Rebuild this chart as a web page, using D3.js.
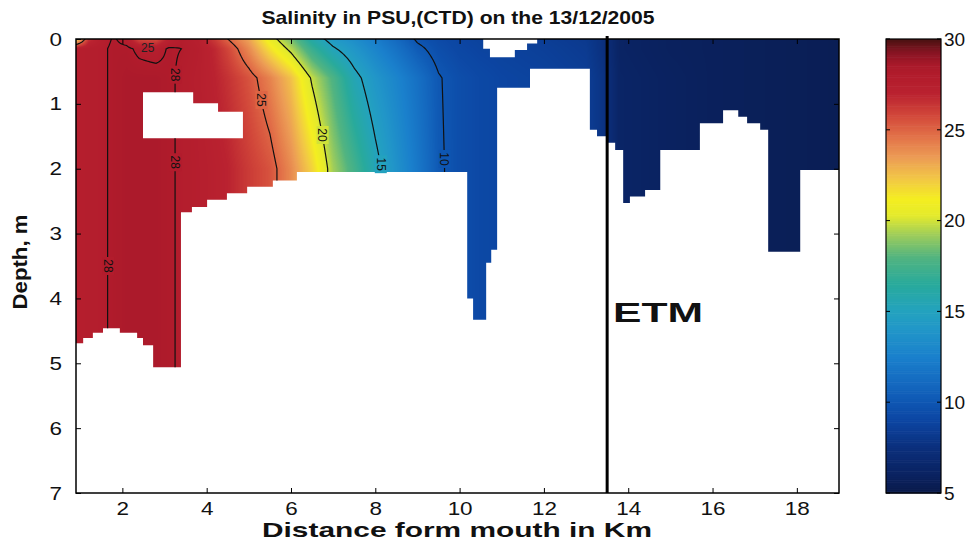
<!DOCTYPE html>
<html>
<head>
<meta charset="utf-8">
<title>Salinity section</title>
<script src="https://cdn.jsdelivr.net/npm/d3@7"></script>
<style>
  body { margin: 0; background: #fff; }
  svg { display: block; font-family: "Liberation Sans", Arial, sans-serif; }
</style>
</head>
<body>
<div id="chart"></div>
<script>
// ===================================
// DATA
// ===================================

const xTicks = [2, 4, 6, 8, 10, 12, 14, 16, 18];
const yTicks = [0, 1, 2, 3, 4, 5, 6, 7];
const colorTicks = [5, 10, 15, 20, 25, 30];
const contourLevels = [10, 15, 20, 25, 28];

// salinity readings (PSU): one column per distance, one row per depth
const stationKm = [0.9, 1.2, 1.5, 1.8, 2.1, 2.4, 2.8, 3.1, 3.4, 3.8, 4.2, 4.5, 5.0, 5.5, 6.0, 6.5,
  7.0, 7.5, 8.0, 8.5, 9.0, 9.5, 10.0, 10.5, 11.0, 12.0, 13.0, 13.4, 13.8, 15.0, 16.0, 17.0, 18.0, 19.0];
const readingDepth = [0, 0.15, 0.6, 2];
const salinity0m = [21.5, 26.5, 27.6, 28.1, 27.6, 25.8, 25.6, 27.2, 27.9, 27.4, 26.2, 25.0, 23.3, 20.7, 18.6, 16.0,
  14.3, 13.4, 12.3, 11.1, 9.8, 9.3, 9.0, 8.8, 8.7, 8.5, 8.2, 7.6, 6.2, 5.9, 5.8, 5.7, 5.6, 5.5];
const salinity015m = [27.6, 27.7, 27.8, 28.2, 28.2, 27.8, 27.6, 28.1, 28.0, 27.6, 26.8, 25.9, 24.0, 21.6, 19.6, 17.1,
  15.2, 14.0, 12.8, 11.6, 10.3, 9.5, 9.1, 8.9, 8.8, 8.6, 8.3, 7.6, 6.2, 5.9, 5.8, 5.7, 5.6, 5.5];
const salinity06m = [27.6, 27.7, 27.8, 28.2, 28.4, 28.4, 28.4, 28.2, 27.8, 27.5, 27.0, 26.5, 25.5, 24.2, 22.5, 19.8,
  17.8, 15.5, 14.0, 12.8, 11.5, 10.1, 9.5, 9.2, 9.0, 8.8, 8.5, 7.8, 6.3, 6.0, 5.8, 5.7, 5.6, 5.5];
const salinity2m = [27.6, 27.7, 27.8, 28.2, 28.4, 28.4, 28.4, 28.2, 27.8, 27.6, 27.3, 27.0, 26.2, 25.5, 24.0, 22.0,
  19.3, 17.5, 15.5, 13.7, 12.0, 10.2, 9.5, 9.2, 9.0, 8.8, 8.5, 7.8, 6.3, 6.0, 5.8, 5.7, 5.6, 5.5];

// river bed (step edges in km, depth of each step in m)
const bottomEdgeKm = [0.9, 1.07, 1.30, 1.54, 1.94, 2.35, 2.49, 2.73, 3.39, 3.65, 4.01, 4.48, 4.96, 5.57, 6.14,
  10.18, 10.32, 10.63, 10.75, 10.89, 11.67, 13.09, 13.26, 13.5, 13.69, 13.88, 14.04, 14.4, 14.76,
  15.7, 16.25, 16.61, 16.82, 17.13, 17.32, 18.08, 19.0];
const bottomDepthM = [4.69, 4.61, 4.53, 4.46, 4.53, 4.61, 4.72, 5.06, 2.67, 2.59, 2.48, 2.38, 2.28, 2.18, 2.05,
  4.0, 4.33, 3.45, 3.25, 0.75, 0.46, 1.4, 1.5, 1.6, 1.71, 2.53, 2.43, 2.33, 1.71, 1.3, 1.1, 1.2, 1.3, 1.4, 3.28, 2.02];

// blank (no data) patches inside the section
const holeOutline = [[2.49, 0.82], [3.68, 0.82], [3.68, 0.99], [4.27, 0.99], [4.27, 1.12], [4.86, 1.12],
  [4.86, 1.53], [2.49, 1.53]];
const notchOutline = [[10.56, 0], [10.56, 0.15], [10.72, 0.15], [10.72, 0.28], [11.31, 0.28], [11.31, 0.17],
  [11.6, 0.17], [11.6, 0.07], [11.84, 0.07], [11.84, 0]];

const etmKm = 13.5;

// contour label placement (level, depth, start of search in km)
const contourLabels = [
  { level: 25, depth: 0.94, fromKm: 4.6 },
  { level: 20, depth: 1.48, fromKm: 5.5 },
  { level: 15, depth: 1.93, fromKm: 7.0 },
  { level: 10, depth: 1.85, fromKm: 8.5 },
  { level: 28, depth: 0.55, fromKm: 2.8 },
  { level: 28, depth: 3.5, fromKm: 1.2 },
  { level: 28, depth: 1.9, fromKm: 2.8 }
];

// scanned "jet" colour map
const colorStops = [5, 6, 7.5, 9, 10, 11, 12.5, 14, 15, 16.5, 18, 19.2, 20.3, 21.2, 22.3, 23.5, 24.7, 25.8, 27, 28, 28.6, 29.3, 30];
const colorHex = ["#0a1a4a", "#0a2260", "#0b2f7c", "#0c45a2", "#0e56b2", "#1468bf", "#1a80cc", "#2196c8", "#23a2bf",
  "#28aa9c", "#52b480", "#9ccc5c", "#e4ea2c", "#f4ee20", "#f2c845", "#ec9c55", "#e27048", "#d2483a", "#ba2230",
  "#b21c2c", "#a9192a", "#861422", "#4a1212"];

// ===================================
// CHART SETUP
// ===================================

const W = 972, H = 545;
const x = d3.scaleLinear().domain([0.9, 19]).range([76, 839]);
const y = d3.scaleLinear().domain([0, 7]).range([39, 493]);
const cb = d3.scaleLinear().domain([5, 30]).range([493, 39]);
const cbLeft = 886, cbWidth = 55;

const color = d3.scaleLinear().domain(colorStops).range(colorHex).interpolate(d3.interpolateRgb).clamp(true);

const svg = d3.select("#chart").append("svg")
  .attr("width", W).attr("height", H)
  .attr("viewBox", `0 0 ${W} ${H}`);

// ===================================
// SALINITY FIELD
// ===================================

const rows = [salinity0m, salinity015m, salinity06m, salinity2m];
const rowScales = rows.map(r => d3.scaleLinear().domain(stationKm).range(r).clamp(true));

function salinityAt(km, z) {
  const zc = Math.max(0, Math.min(readingDepth[readingDepth.length - 1], z));
  const j = Math.max(1, Math.min(readingDepth.length - 1, d3.bisectRight(readingDepth, zc)));
  const t = (zc - readingDepth[j - 1]) / (readingDepth[j] - readingDepth[j - 1]);
  const a = rowScales[j - 1](km), b = rowScales[j](km);
  return a + (b - a) * t;
}

// water outline used as clip for image and contours
const line = d3.line().x(d => x(d[0])).y(d => y(d[1]));
const waterPts = [[0.9, 0], [19, 0]];
for (let i = bottomDepthM.length - 1; i >= 0; i--) {
  waterPts.push([bottomEdgeKm[i + 1], bottomDepthM[i]], [bottomEdgeKm[i], bottomDepthM[i]]);
}
svg.append("defs").append("clipPath").attr("id", "water")
  .append("path")
  .attr("clip-rule", "evenodd")
  .attr("d", line(waterPts) + "Z" + line(holeOutline) + "Z" + line(notchOutline) + "Z");

// colour image
const pw = Math.round(x.range()[1] - x.range()[0]);
const ph = Math.round(y.range()[1] - y.range()[0]);
const lut = d3.range(0, 501).map(k => d3.rgb(color(5 + k * 0.05)));
const canvas = document.createElement("canvas");
canvas.width = pw; canvas.height = ph;
const ctx = canvas.getContext("2d");
const img = ctx.createImageData(pw, ph);
for (let i = 0; i < pw; i++) {
  const km = x.invert(x.range()[0] + i + 0.5);
  for (let j = 0; j < ph; j++) {
    const z = y.invert(y.range()[0] + j + 0.5);
    const v = salinityAt(km, z);
    const c = lut[Math.max(0, Math.min(500, Math.round((v - 5) / 0.05)))];
    const k = (j * pw + i) * 4;
    img.data[k] = c.r; img.data[k + 1] = c.g; img.data[k + 2] = c.b; img.data[k + 3] = 255;
  }
}
ctx.putImageData(img, 0, 0);

svg.append("image")
  .attr("x", x.range()[0]).attr("y", y.range()[0])
  .attr("width", pw).attr("height", ph)
  .attr("preserveAspectRatio", "none")
  .attr("href", canvas.toDataURL())
  .attr("clip-path", "url(#water)");

// ===================================
// CONTOURS
// ===================================

const dx = 0.05, dz = 0.025;
const nx = Math.round((19 - 0.9) / dx) + 1, nz = Math.round(7 / dz) + 1;
const grid = new Float64Array(nx * nz);
for (let j = 0; j < nz; j++) {
  for (let i = 0; i < nx; i++) grid[j * nx + i] = salinityAt(0.9 + i * dx, j * dz);
}
const contours = d3.contours().size([nx, nz]).thresholds(contourLevels)(grid);
const gridPath = d3.geoPath(d3.geoTransform({
  point(px, py) { this.stream.point(x(0.9 + (px - 0.5) * dx), y((py - 0.5) * dz)); }
}));

svg.append("g")
  .attr("clip-path", "url(#water)")
  .selectAll("path")
  .data(contours)
  .join("path")
  .attr("d", gridPath)
  .attr("fill", "none")
  .attr("stroke", "#111")
  .attr("stroke-width", 1.2);

// labels on contour lines
const labelG = svg.append("g");
contourLabels.forEach(lb => {
  let km = lb.fromKm, prev = salinityAt(km, lb.depth) - lb.level;
  for (let k = lb.fromKm + 0.01; k < 19; k += 0.01) {
    const cur = salinityAt(k, lb.depth) - lb.level;
    if (prev === 0 || prev * cur < 0) { km = k; break; }
    prev = cur;
  }
  const g = labelG.append("g")
    .attr("transform", `translate(${x(km)},${y(lb.depth)}) rotate(90)`);
  g.append("rect")
    .attr("x", -9).attr("y", -6).attr("width", 18).attr("height", 12)
    .attr("fill", color(lb.level));
  g.append("text")
    .attr("text-anchor", "middle")
    .attr("dy", "0.35em")
    .attr("font-size", 12)
    .attr("fill", "#111")
    .text(lb.level);
});

labelG.append("text")
  .attr("x", x(2.6)).attr("y", y(0.2))
  .attr("text-anchor", "middle")
  .attr("font-size", 12)
  .attr("fill", "#222")
  .text("25");

// ===================================
// ETM MARKER
// ===================================

svg.append("line")
  .attr("x1", x(etmKm)).attr("x2", x(etmKm))
  .attr("y1", y(0) - 3).attr("y2", y(7))
  .attr("stroke", "#000").attr("stroke-width", 3);

svg.append("text")
  .attr("x", 613).attr("y", 322)
  .attr("font-size", 28).attr("font-weight", "bold")
  .attr("textLength", 90).attr("lengthAdjust", "spacingAndGlyphs")
  .attr("fill", "#111")
  .text("ETM");

// ===================================
// AXES
// ===================================

function styleTicks(sel) {
  sel.select(".domain").remove();
  sel.selectAll(".tick line").attr("stroke", "#000");
  sel.selectAll(".tick text")
    .attr("font-size", 19)
    .attr("font-family", null)
    .attr("fill", "#111")
    .each(function() {
      if (!this.textContent) return;
      this.setAttribute("textLength", this.textContent.length * 12.5);
      this.setAttribute("lengthAdjust", "spacingAndGlyphs");
    });
}

const intFmt = d3.format("d");

svg.append("g").attr("transform", `translate(0,${y(7)})`)
  .call(d3.axisBottom(x).tickValues(xTicks).tickFormat(intFmt).tickSizeInner(-5).tickSizeOuter(0).tickPadding(9))
  .call(styleTicks);
svg.append("g").attr("transform", `translate(${x(0.9)},0)`)
  .call(d3.axisLeft(y).tickValues(yTicks).tickFormat(intFmt).tickSizeInner(-5).tickSizeOuter(0).tickPadding(14))
  .call(styleTicks);
svg.append("g").attr("transform", `translate(0,${y(0)})`)
  .call(d3.axisTop(x).tickValues(xTicks).tickSizeInner(-5).tickSizeOuter(0).tickFormat(""))
  .call(styleTicks);
svg.append("g").attr("transform", `translate(${x(19)},0)`)
  .call(d3.axisRight(y).tickValues(yTicks).tickSizeInner(-5).tickSizeOuter(0).tickFormat(""))
  .call(styleTicks);

// frame
svg.append("rect")
  .attr("x", x(0.9)).attr("y", y(0))
  .attr("width", x(19) - x(0.9)).attr("height", y(7) - y(0))
  .attr("fill", "none").attr("stroke", "#000").attr("stroke-width", 1.5);

// titles
svg.append("text")
  .attr("x", 458).attr("y", 24)
  .attr("text-anchor", "middle")
  .attr("font-size", 19).attr("font-weight", "bold")
  .attr("textLength", 393).attr("lengthAdjust", "spacingAndGlyphs")
  .attr("fill", "#111")
  .text("Salinity in PSU,(CTD) on the 13/12/2005");

svg.append("text")
  .attr("x", 457).attr("y", 537)
  .attr("text-anchor", "middle")
  .attr("font-size", 21).attr("font-weight", "bold")
  .attr("textLength", 390).attr("lengthAdjust", "spacingAndGlyphs")
  .attr("fill", "#111")
  .text("Distance form mouth in Km");

svg.append("text")
  .attr("transform", "translate(27,262) rotate(-90)")
  .attr("text-anchor", "middle")
  .attr("font-size", 20).attr("font-weight", "bold")
  .attr("textLength", 95).attr("lengthAdjust", "spacingAndGlyphs")
  .attr("fill", "#111")
  .text("Depth, m");

// ===================================
// COLOUR BAR
// ===================================

const cbG = svg.append("g");
cbG.selectAll("rect.cell")
  .data(d3.range(5, 30, 0.1))
  .join("rect")
  .attr("class", "cell")
  .attr("x", cbLeft).attr("width", cbWidth)
  .attr("y", d => cb(d + 0.1))
  .attr("height", d => cb(d) - cb(d + 0.1) + 0.6)
  .attr("fill", d => color(d + 0.05));

cbG.append("rect")
  .attr("x", cbLeft).attr("y", cb(30))
  .attr("width", cbWidth).attr("height", cb(5) - cb(30))
  .attr("fill", "none").attr("stroke", "#000").attr("stroke-width", 1.2);

const cbTicks = cbG.selectAll("g.cbtick")
  .data(colorTicks)
  .join("g")
  .attr("class", "cbtick")
  .attr("transform", d => `translate(0,${cb(d)})`);
cbTicks.append("line").attr("x1", cbLeft).attr("x2", cbLeft + 4).attr("stroke", "#000");
cbTicks.append("line").attr("x1", cbLeft + cbWidth - 4).attr("x2", cbLeft + cbWidth).attr("stroke", "#000");
cbTicks.append("text")
  .attr("x", cbLeft + cbWidth + 3)
  .attr("dy", "0.36em")
  .attr("font-size", 19)
  .attr("fill", "#111")
  .text(d => d);
</script>
</body>
</html>
